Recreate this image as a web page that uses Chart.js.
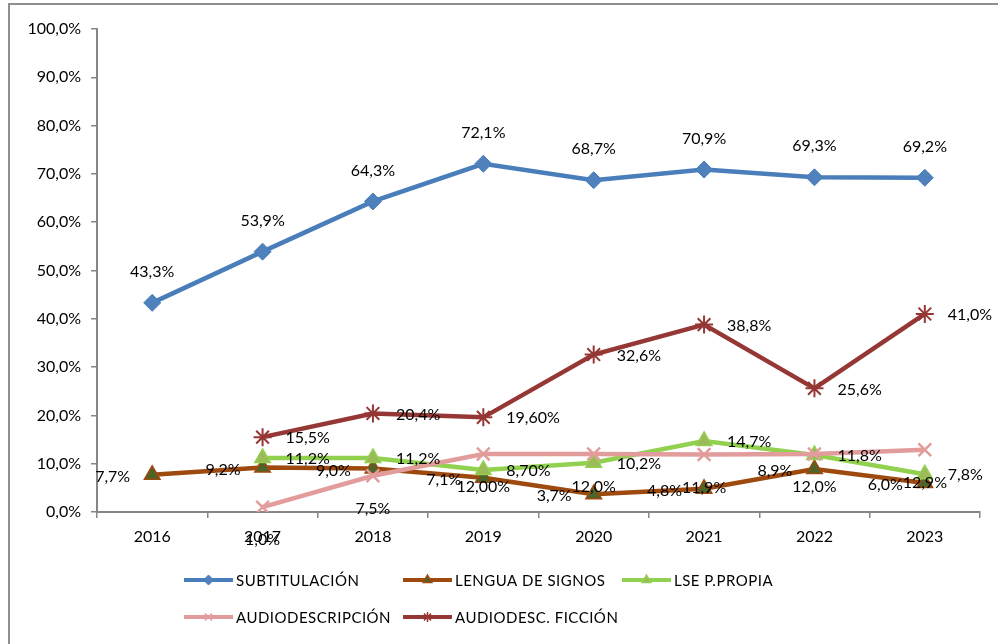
<!DOCTYPE html>
<html>
<head>
<meta charset="utf-8">
<script src="https://cdn.jsdelivr.net/npm/chart.js@4.4.1/dist/chart.umd.min.js"></script>
<style>
  html, body { margin: 0; padding: 0; background: #fff; }
  #wrap { width: 998px; height: 644px; position: relative; }
</style>
</head>
<body>
<div id="wrap"><canvas id="chart" width="998" height="644"></canvas></div>
<script>
const years = ['2016', '2017', '2018', '2019', '2020', '2021', '2022', '2023'];

// valores en %
const subtitulacion = [43.3, 53.9, 64.3, 72.1, 68.7, 70.9, 69.3, 69.2];
const lenguaSignos = [7.7, 9.2, 9.0, 7.1, 3.7, 4.8, 8.9, 6.0];
const lsePropia = [null, 11.2, 11.2, 8.7, 10.2, 14.7, 11.8, 7.8];
const audiodescripcion = [null, 1.0, 7.5, 12.0, 12.0, 11.9, 12.0, 12.9];
const audiodescFiccion = [null, 15.5, 20.4, 19.6, 32.6, 38.8, 25.6, 41.0];

// etiquetas tal como salen en el original
const subtitulacionTxt = ['43,3%', '53,9%', '64,3%', '72,1%', '68,7%', '70,9%', '69,3%', '69,2%'];
const lenguaSignosTxt = ['7,7%', '9,2%', '9,0%', '7,1%', '3,7%', '4,8%', '8,9%', '6,0%'];
const lsePropiaTxt = ['', '11,2%', '11,2%', '8,70%', '10,2%', '14,7%', '11,8%', '7,8%'];
const audiodescripcionTxt = ['', '1,0%', '7,5%', '12,00%', '12,0%', '11,9%', '12,0%', '12,9%'];
const audiodescFiccionTxt = ['', '15,5%', '20,4%', '19,60%', '32,6%', '38,8%', '25,6%', '41,0%'];

const FONT = 'Lato, "Open Sans", sans-serif';
const AXIS = '#868686';

// marco exterior gris
const frame = {
  id: 'frame',
  beforeDraw(chart) {
    const ctx = chart.ctx;
    ctx.save();
    ctx.strokeStyle = '#8f8f8f';
    ctx.lineWidth = 2;
    ctx.strokeRect(9, 4, 1200, 1200);
    ctx.restore();
  }
};

// etiquetas de datos
const dataLabels = {
  id: 'dataLabels',
  afterDatasetsDraw(chart) {
    const ctx = chart.ctx;
    ctx.save();
    ctx.font = '16px ' + FONT;
    ctx.fillStyle = '#000';
    ctx.textBaseline = 'middle';
    chart.data.datasets.forEach((ds, i) => {
      const meta = chart.getDatasetMeta(i);
      meta.data.forEach((pt, j) => {
        const txt = ds.labelTxt[j];
        if (!txt || ds.data[j] == null) return;
        let x = pt.x, y = pt.y;
        if (ds.labelPos === 'top') { ctx.textAlign = 'center'; y -= 31; }
        else if (ds.labelPos === 'below') { ctx.textAlign = 'center'; y += 33; }
        else if (ds.labelPos === 'left') { ctx.textAlign = 'right'; x -= 22; y += 2; }
        else { ctx.textAlign = 'left'; x += 23; y += 1; }
        ctx.fillText(txt, x, y);
      });
    });
    ctx.restore();
  }
};

// leyenda en rejilla de 3 columnas
const gridLegend = {
  id: 'gridLegend',
  afterDraw(chart) {
    const ctx = chart.ctx;
    chart.data.datasets.forEach((ds, i) => {
      const x = 184 + (i % 3) * 219;
      const y = 580 + Math.floor(i / 3) * 37;
      ctx.save();
      ctx.strokeStyle = ds.borderColor;
      ctx.lineWidth = 4;
      ctx.beginPath();
      ctx.moveTo(x, y);
      ctx.lineTo(x + 49, y);
      ctx.stroke();
      ctx.fillStyle = ds.pointBackgroundColor;
      ctx.strokeStyle = ds.pointBorderColor;
      ctx.lineWidth = Math.min(ds.pointBorderWidth, 1.5);
      Chart.helpers.drawPoint(ctx, { pointStyle: ds.pointStyle, radius: 5, rotation: 0, borderWidth: ctx.lineWidth }, x + 24.5, y);
      ctx.font = '15px ' + FONT;
      ctx.fillStyle = '#000';
      ctx.textBaseline = 'middle';
      ctx.textAlign = 'left';
      ctx.letterSpacing = '0.5px';
      ctx.fillText(ds.label, x + 52, y + 1);
      ctx.restore();
    });
  }
};

function serie(label, data, txt, line, fill, border, style, radius, bw, pos, order) {
  return {
    label: label,
    data: data,
    labelTxt: txt,
    labelPos: pos,
    borderColor: line,
    borderWidth: 4.5,
    pointStyle: style,
    pointRadius: radius,
    pointHoverRadius: radius,
    pointBackgroundColor: fill,
    pointBorderColor: border,
    pointBorderWidth: bw,
    fill: false,
    tension: 0,
    order: order
  };
}

new Chart(document.getElementById('chart').getContext('2d'), {
  type: 'line',
  data: {
    labels: years,
    datasets: [
      serie('SUBTITULACIÓN', subtitulacion, subtitulacionTxt, '#4A7EBB', '#4F81BD', '#4A7EBB', 'rectRot', 8.5, 1, 'top', 5),
      serie('LENGUA DE SIGNOS', lenguaSignos, lenguaSignosTxt, '#9E4A0E', '#4F6228', '#9E4A0E', 'triangle', 9, 1.5, 'left', 4),
      serie('LSE P.PROPIA', lsePropia, lsePropiaTxt, '#92D050', '#9BBB59', '#92D050', 'triangle', 9, 1.5, 'right', 3),
      serie('AUDIODESCRIPCIÓN', audiodescripcion, audiodescripcionTxt, '#E39C9C', '#E39C9C', '#E39C9C', 'crossRot', 9, 2.5, 'below', 2),
      serie('AUDIODESC. FICCIÓN', audiodescFiccion, audiodescFiccionTxt, '#953735', '#953735', '#953735', 'star', 9, 2, 'right', 1)
    ]
  },
  options: {
    responsive: false,
    animation: false,
    layout: { padding: { left: 0, top: 29, right: 18, bottom: 0 } },
    plugins: {
      legend: { display: false },
      tooltip: { enabled: false }
    },
    scales: {
      x: {
        offset: true,
        grid: { drawOnChartArea: false, offset: true, tickLength: 6, color: AXIS, lineWidth: 1.5 },
        border: { color: AXIS, width: 2 },
        ticks: { color: '#000', font: { family: FONT, size: 16 }, padding: 9, maxRotation: 0 },
        afterFit(scale) { scale.height = 132; }
      },
      y: {
        min: 0,
        max: 100,
        grid: { drawOnChartArea: false, tickLength: 6, color: AXIS, lineWidth: 1.5 },
        border: { color: AXIS, width: 2 },
        ticks: {
          stepSize: 10,
          color: '#000',
          font: { family: FONT, size: 16 },
          padding: 10,
          callback: v => v.toFixed(1).replace('.', ',') + '%'
        },
        afterFit(scale) { scale.width = 97; }
      }
    }
  },
  plugins: [frame, dataLabels, gridLegend]
});
</script>
</body>
</html>
